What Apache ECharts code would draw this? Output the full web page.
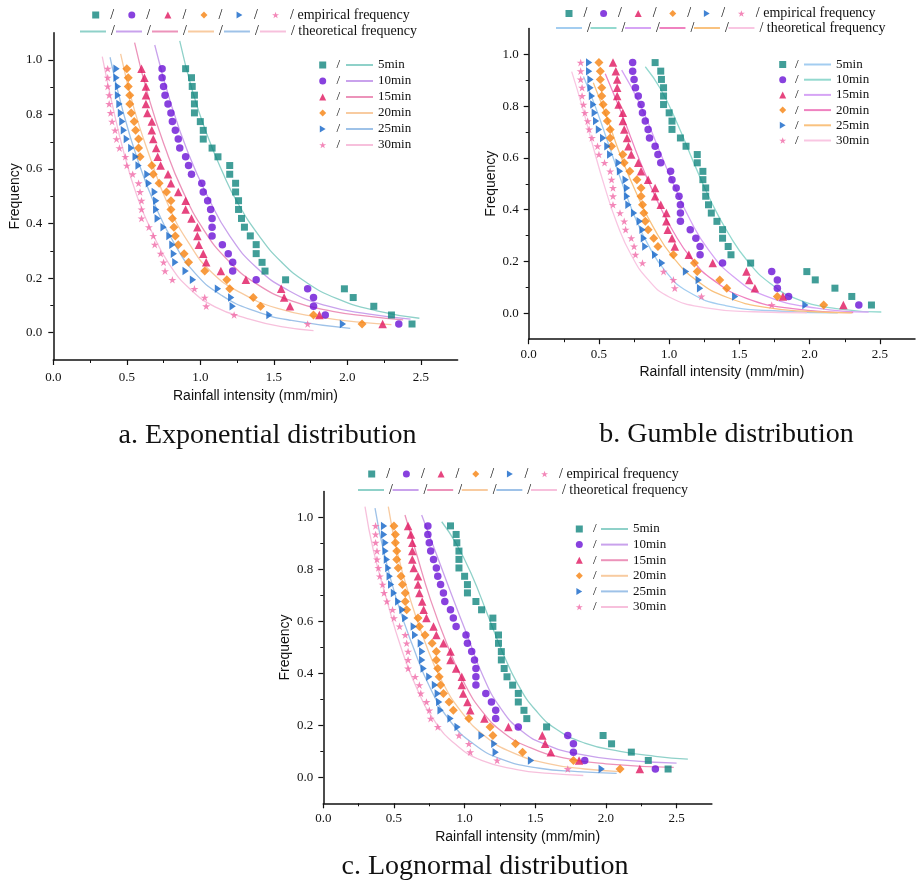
<!DOCTYPE html>
<html><head><meta charset="utf-8">
<script src="https://cdn.jsdelivr.net/npm/echarts@6/dist/echarts.min.js"></script>
<style>html,body{margin:0;padding:0;background:#fff}#c{width:916px;height:886px}</style>
</head><body><div id="c"></div>
<script>
// ---------- data ----------
const durations = ['5min','10min','15min','20min','25min','30min'];
const freq = [0.968,0.935,0.903,0.871,0.839,0.806,0.774,0.742,0.710,0.677,0.645,0.613,0.581,0.548,0.516,0.484,0.452,0.419,0.387,0.355,0.323,0.290,0.258,0.226,0.194,0.161,0.129,0.097,0.065,0.032];
const emp5  = [0.90,0.94,0.945,0.96,0.96,0.96,1.00,1.02,1.02,1.08,1.12,1.20,1.20,1.24,1.24,1.26,1.26,1.28,1.30,1.34,1.38,1.38,1.42,1.44,1.58,1.98,2.04,2.18,2.30,2.44];
const emp10 = [0.74,0.74,0.75,0.76,0.78,0.80,0.81,0.83,0.85,0.86,0.90,0.92,0.94,1.01,1.02,1.05,1.07,1.08,1.08,1.08,1.15,1.19,1.22,1.22,1.38,1.73,1.77,1.77,1.85,2.35];
const emp15 = [0.60,0.62,0.63,0.63,0.63,0.64,0.67,0.67,0.68,0.70,0.71,0.73,0.78,0.80,0.85,0.90,0.90,0.94,0.98,0.98,0.99,1.02,1.04,1.14,1.31,1.55,1.57,1.61,1.81,2.24];
const emp20 = [0.50,0.51,0.51,0.52,0.52,0.53,0.55,0.56,0.58,0.58,0.59,0.67,0.68,0.72,0.77,0.80,0.80,0.81,0.82,0.83,0.85,0.89,0.92,1.03,1.18,1.20,1.36,1.41,1.77,2.10];
const emp25 = [0.43,0.43,0.44,0.44,0.45,0.46,0.47,0.48,0.50,0.53,0.56,0.58,0.64,0.65,0.69,0.70,0.70,0.71,0.75,0.79,0.81,0.82,0.83,0.90,0.95,1.12,1.21,1.22,1.47,1.97];
const emp30 = [0.37,0.37,0.37,0.38,0.38,0.39,0.40,0.42,0.43,0.45,0.49,0.50,0.54,0.58,0.59,0.60,0.60,0.60,0.65,0.68,0.69,0.73,0.75,0.76,0.81,0.96,1.03,1.04,1.23,1.73];

// theoretical curves, panel a (exponential)
const expFit5  = [[0.86,1.07],[0.95,0.88],[1.05,0.72],[1.15,0.59],[1.25,0.48],[1.40,0.355],[1.55,0.26],[1.72,0.185],[1.93,0.125],[2.20,0.08],[2.49,0.053]];
const expFit10 = [[0.69,1.055],[0.80,0.84],[0.92,0.655],[1.05,0.50],[1.20,0.355],[1.38,0.24],[1.60,0.155],[1.85,0.10],[2.15,0.068],[2.43,0.05]];
const expFit15 = [[0.553,1.064],[0.65,0.86],[0.76,0.68],[0.88,0.52],[1.02,0.38],[1.18,0.27],[1.38,0.18],[1.62,0.117],[1.90,0.078],[2.15,0.06],[2.38,0.047]];
const expFit20 = [[0.458,1.022],[0.55,0.82],[0.66,0.64],[0.78,0.47],[0.92,0.33],[1.08,0.22],[1.28,0.145],[1.52,0.09],[1.80,0.058],[2.10,0.038],[2.30,0.03]];
const expFit25 = [[0.386,1.01],[0.47,0.82],[0.57,0.64],[0.69,0.47],[0.82,0.33],[0.97,0.215],[1.15,0.135],[1.37,0.08],[1.62,0.045],[2.02,0.016]];
const expFit30 = [[0.333,1.012],[0.40,0.84],[0.48,0.66],[0.57,0.50],[0.67,0.37],[0.79,0.25],[0.93,0.16],[1.10,0.095],[1.32,0.052],[1.55,0.022],[1.77,0.008]];
// panel b (Gumbel), named after the point set each curve follows
const gumFit5  = [[0.83,0.952],[0.94,0.865],[1.06,0.73],[1.18,0.575],[1.30,0.43],[1.42,0.31],[1.56,0.20],[1.72,0.115],[1.91,0.055],[2.19,0.018],[2.51,0.005]];
const gumFit10 = [[0.662,0.939],[0.79,0.81],[0.91,0.655],[1.03,0.50],[1.15,0.36],[1.28,0.245],[1.45,0.145],[1.68,0.068],[2.05,0.02],[2.42,0.005]];
const gumFit15 = [[0.545,0.925],[0.67,0.76],[0.79,0.59],[0.91,0.44],[1.03,0.315],[1.16,0.21],[1.31,0.13],[1.55,0.058],[1.88,0.018],[2.31,0.003]];
const gumFit20 = [[0.46,0.89],[0.56,0.75],[0.66,0.60],[0.77,0.46],[0.89,0.33],[1.03,0.215],[1.20,0.125],[1.42,0.06],[1.70,0.022],[2.00,0.007],[2.30,0.002]];
const gumFit25 = [[0.39,0.914],[0.48,0.79],[0.57,0.65],[0.66,0.51],[0.75,0.38],[0.85,0.265],[0.97,0.165],[1.13,0.085],[1.40,0.03],[1.80,0.008],[2.20,0.002]];
const gumFit30 = [[0.306,0.933],[0.38,0.80],[0.46,0.64],[0.54,0.49],[0.63,0.345],[0.73,0.225],[0.85,0.13],[1.00,0.063],[1.25,0.022],[1.60,0.006],[1.98,0.002]];
// panel c (lognormal)
const logFit5  = [[0.838,0.984],[0.94,0.90],[1.05,0.78],[1.16,0.63],[1.27,0.48],[1.38,0.355],[1.50,0.26],[1.65,0.185],[1.85,0.132],[2.10,0.10],[2.35,0.081],[2.58,0.07]];
const logFit10 = [[0.696,1.01],[0.80,0.86],[0.91,0.70],[1.02,0.545],[1.13,0.39],[1.25,0.27],[1.40,0.18],[1.58,0.125],[1.80,0.09],[2.10,0.067],[2.50,0.055]];
const logFit15 = [[0.578,1.01],[0.66,0.86],[0.755,0.69],[0.87,0.52],[1.00,0.36],[1.13,0.25],[1.28,0.17],[1.46,0.115],[1.70,0.075],[2.00,0.052],[2.48,0.038]];
const logFit20 = [[0.46,1.042],[0.52,0.875],[0.613,0.69],[0.72,0.52],[0.84,0.37],[0.98,0.25],[1.14,0.16],[1.34,0.095],[1.60,0.052],[1.85,0.032],[2.10,0.022]];
const logFit25 = [[0.366,1.036],[0.425,0.875],[0.519,0.683],[0.63,0.51],[0.76,0.34],[0.90,0.215],[1.06,0.13],[1.26,0.07],[1.53,0.035],[1.80,0.022],[2.076,0.015]];
const logFit30 = [[0.295,1.042],[0.354,0.875],[0.449,0.683],[0.55,0.50],[0.66,0.345],[0.79,0.215],[0.94,0.125],[1.12,0.065],[1.37,0.03],[1.60,0.015],[1.84,0.007]];

const xTickValues = [0, 0.5, 1.0, 1.5, 2.0, 2.5];
const xMinorValues = [0.25, 0.75, 1.25, 1.75, 2.25];
const yTickValues = [0, 0.2, 0.4, 0.6, 0.8, 1.0];
const yMinorValues = [0.1, 0.3, 0.5, 0.7, 0.9];
const titles = ['a. Exponential distribution', 'b. Gumble distribution', 'c. Lognormal distribution'];

// ---------- styles ----------
const empSets = [emp5, emp10, emp15, emp20, emp25, emp30];
const markColors = ['#12867e','#6a12d6','#e0175f','#f6820f','#1264c8','#f06aa8'];
const rightTri = 'path://M0,0L10,6L0,12Z';
const star = 'path://M5,0L6.18,3.45L9.76,3.45L6.79,5.59L7.94,9.05L5,6.9L2.06,9.05L3.21,5.59L0.24,3.45L3.82,3.45Z';
const markSymbols = ['rect','circle','triangle','diamond',rightTri,star];
const markSizes = [7,7.5,8.5,9,[7.5,8.5],8];
const fitColorsAC = ['#8fd1c9','#c9a2ec','#ec93ba','#f8cba0','#9ec2e8','#f7c0dc'];
const fitColorsB  = ['#a3cdf0','#93d9cf','#d6a4f5','#ef82c0','#f9c27f','#f9c6e2'];

const panels = [
  { key:'a', fits:[expFit5,expFit10,expFit15,expFit20,expFit25,expFit30], colors:fitColorsAC,
    grid:{left:53.3,top:32.7,width:404.3,height:327.3}, xNameGap:29, yNameGap:31, xMargin:11, yMargin:11,
    lineLeft:79, markLeft:92.2, pitch:36, row1:8, row2:24.5,
    sideMark:319.2, markPad:5.3, sideLine:345, sideTop:58.5, sideGap:3,
    title:{x:267.5,y:436} },
  { key:'b', fits:[gumFit25,gumFit5,gumFit10,gumFit15,gumFit20,gumFit30], colors:fitColorsB,
    grid:{left:528.7,top:28.4,width:386.3,height:310.8}, xNameGap:26, yNameGap:30, xMargin:9, yMargin:10,
    lineLeft:555, markLeft:565.5, pitch:34.5, row1:6.5, row2:21,
    sideMark:779.2, markPad:3.8, sideLine:803, sideTop:58, sideGap:2.2,
    title:{x:726.5,y:435} },
  { key:'c', fits:[logFit5,logFit10,logFit15,logFit20,logFit25,logFit30], colors:fitColorsAC,
    grid:{left:323.3,top:491.6,width:388.6,height:311.7}, xNameGap:27, yNameGap:31, xMargin:9, yMargin:10,
    lineLeft:357, markLeft:368.2, pitch:34.6, row1:467, row2:483,
    sideMark:575.8, markPad:5.2, sideLine:600, sideTop:522.5, sideGap:2.6,
    title:{x:485,y:867} }
];

const SERIF = 'Liberation Serif', SANS = 'Liberation Sans';
const ink = '#111';
const LINE_W = 26, MARK_W = 7, MARK_PAD = 6;
const grids = [], xAxes = [], yAxes = [], series = [], legends = [], graphics = [];

panels.forEach((p, gi) => {
  grids.push(Object.assign({ containLabel:false, outerBoundsMode:'none' }, p.grid));
  const axisLineStyle = { color: ink, width: 1.5 };
  xAxes.push({
    type:'value', gridIndex:gi, min:0, max:2.75, position:'bottom',
    name:'Rainfall intensity (mm/min)', nameLocation:'middle', nameGap:p.xNameGap,
    nameTextStyle:{ fontFamily:SANS, fontSize:14, color:ink },
    axisLine:{ show:true, onZero:false, lineStyle:axisLineStyle },
    axisTick:{ show:true, customValues:xTickValues, length:5, lineStyle:{color:ink,width:1.2} },
    axisLabel:{ customValues:xTickValues, formatter:v=>Number(v).toFixed(1), margin:p.xMargin, fontFamily:SERIF, fontSize:13, color:ink },
    splitLine:{ show:false }
  }, {
    type:'value', gridIndex:gi, min:0, max:2.75, position:'bottom',
    axisLine:{ show:false, onZero:false },
    axisTick:{ show:true, customValues:xMinorValues, length:3, lineStyle:{color:ink,width:1} },
    axisLabel:{ show:false }, splitLine:{ show:false }
  });
  yAxes.push({
    type:'value', gridIndex:gi, min:-0.1, max:1.1, position:'left',
    name:'Frequency', nameLocation:'middle', nameGap:p.yNameGap, nameRotate:90,
    nameTextStyle:{ fontFamily:SANS, fontSize:14, color:ink },
    axisLine:{ show:true, onZero:false, lineStyle:axisLineStyle },
    axisTick:{ show:true, customValues:yTickValues, length:5, lineStyle:{color:ink,width:1.2} },
    axisLabel:{ customValues:yTickValues, formatter:v=>Number(v).toFixed(1), margin:p.yMargin, fontFamily:SERIF, fontSize:13, color:ink },
    splitLine:{ show:false }
  }, {
    type:'value', gridIndex:gi, min:-0.1, max:1.1, position:'left',
    axisLine:{ show:false, onZero:false },
    axisTick:{ show:true, customValues:yMinorValues, length:3, lineStyle:{color:ink,width:1} },
    axisLabel:{ show:false }, splitLine:{ show:false }
  });

  const empNames = [], fitNames = [];
  durations.forEach((d, i) => {
    const en = p.key + '-emp-' + d, fn = p.key + '-fit-' + d;
    empNames.push(en); fitNames.push(fn);
    series.push({
      type:'line', name:fn, xAxisIndex:gi*2, yAxisIndex:gi*2,
      data:p.fits[i], smooth:0.5, symbol:'none', showSymbol:false,
      color:p.colors[i], lineStyle:{ color:p.colors[i], width:1.3 }, z:2, silent:true
    });
  });
  durations.forEach((d, i) => {
    series.push({
      type:'scatter', name:empNames[i], xAxisIndex:gi*2, yAxisIndex:gi*2,
      data:empSets[i].map((x, k) => [x, freq[k]]),
      symbol:markSymbols[i], symbolSize:markSizes[i], symbolKeepAspect:true,
      color:markColors[i], itemStyle:{ color:markColors[i] }, z:4, silent:true
    });
  });

  const common = { selectedMode:false, padding:0, inactiveColor:'#ccc' };
  const topText = { fontFamily:SERIF, fontSize:14, color:ink };
  const sideText = { fontFamily:SERIF, fontSize:13, color:ink };
  // top two-row legend: markers row and lines row
  legends.push(Object.assign({}, common, {
    data:empNames, orient:'horizontal', left:p.markLeft, top:p.row1,
    itemWidth:MARK_W, itemHeight:MARK_W, itemGap:p.pitch - 21.8,
    formatter:n => (n.endsWith('30min') ? '/ empirical frequency' : '/'),
    textStyle:Object.assign({ padding:[0,0,0,MARK_PAD] }, topText)
  }));
  legends.push(Object.assign({}, common, {
    data:fitNames, orient:'horizontal', left:p.lineLeft, top:p.row2,
    itemWidth:LINE_W, itemHeight:7, itemGap:p.pitch - 35.9, itemStyle:{ opacity:0 },
    formatter:n => (n.endsWith('30min') ? '/ theoretical frequency' : '/'),
    textStyle:topText
  }));
  // side legend: marker + "/" , line + duration label
  legends.push(Object.assign({}, common, {
    data:empNames, orient:'vertical', left:p.sideMark, top:p.sideTop,
    itemWidth:MARK_W, itemHeight:MARK_W, itemGap:p.sideGap,
    formatter:() => '/', textStyle:Object.assign({ padding:[0,0,0,p.markPad] }, sideText)
  }));
  legends.push(Object.assign({}, common, {
    data:fitNames, orient:'vertical', left:p.sideLine, top:p.sideTop,
    itemWidth:27, itemHeight:MARK_W, itemGap:p.sideGap, itemStyle:{ opacity:0 },
    formatter:n => n.split('-')[2], textStyle:sideText
  }));

  graphics.push({
    type:'text', x:p.title.x, y:p.title.y, silent:true,
    style:{ text:titles[gi], fontFamily:SERIF, fontSize:28, fill:ink,
            align:'center', verticalAlign:'middle', textAlign:'center', textVerticalAlign:'middle' }
  });
});

const chart = echarts.init(document.getElementById('c'), null, { renderer:'canvas' });
chart.setOption({
  animation:false,
  backgroundColor:'#fff',
  grid:grids, xAxis:xAxes, yAxis:yAxes, series:series, legend:legends, graphic:graphics
});
</script>
</body></html>
